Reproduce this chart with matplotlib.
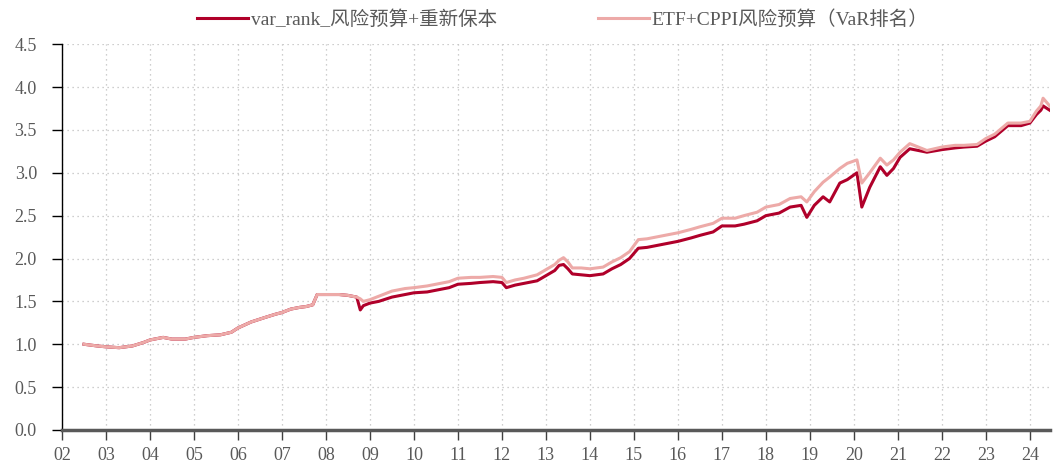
import numpy as np
import matplotlib.pyplot as plt

plt.rcParams['font.family'] = ['Liberation Serif', 'Noto Sans CJK SC']

# 读图估计的净值（年份小数）
dates = [2002.50, 2002.80, 2003.00, 2003.30, 2003.60, 2003.85, 2004.00, 2004.30, 2004.50,
         2004.80, 2005.00, 2005.30, 2005.60, 2005.85, 2006.00, 2006.30, 2006.60, 2006.85,
         2007.00, 2007.20, 2007.40, 2007.55, 2007.70, 2007.80, 2008.00, 2008.30, 2008.50,
         2008.70, 2008.78, 2008.85, 2009.00, 2009.20, 2009.50, 2009.80, 2010.00, 2010.30,
         2010.50, 2010.80, 2011.00, 2011.30, 2011.50, 2011.80, 2012.00, 2012.10, 2012.30,
         2012.50, 2012.80, 2013.00, 2013.20, 2013.30, 2013.40, 2013.50, 2013.60, 2013.80,
         2014.00, 2014.30, 2014.50, 2014.70, 2014.90, 2015.10, 2015.30, 2015.50, 2015.80,
         2016.00, 2016.30, 2016.50, 2016.80, 2017.00, 2017.30, 2017.50, 2017.80, 2018.00,
         2018.30, 2018.55, 2018.80, 2018.93, 2019.10, 2019.30, 2019.45, 2019.68, 2019.85,
         2020.07, 2020.18, 2020.36, 2020.60, 2020.75, 2020.90, 2021.05, 2021.27, 2021.66,
         2022.00, 2022.30, 2022.50, 2022.80, 2023.00, 2023.20, 2023.50, 2023.80, 2024.00,
         2024.15, 2024.25, 2024.30, 2024.45]

var_rank = [1.00, 0.98, 0.97, 0.96, 0.98, 1.02, 1.05, 1.08, 1.06, 1.06, 1.08, 1.10, 1.11,
            1.14, 1.19, 1.26, 1.31, 1.35, 1.37, 1.41, 1.43, 1.44, 1.46, 1.58, 1.58, 1.58,
            1.57, 1.55, 1.40, 1.45, 1.48, 1.50, 1.55, 1.58, 1.60, 1.61, 1.63, 1.66, 1.70,
            1.71, 1.72, 1.73, 1.72, 1.66, 1.69, 1.71, 1.74, 1.80, 1.86, 1.92, 1.93, 1.88,
            1.82, 1.81, 1.80, 1.82, 1.88, 1.93, 2.00, 2.12, 2.13, 2.15, 2.18, 2.20, 2.24,
            2.27, 2.31, 2.38, 2.38, 2.40, 2.44, 2.50, 2.53, 2.60, 2.62, 2.48, 2.62, 2.72,
            2.66, 2.88, 2.92, 3.00, 2.60, 2.83, 3.07, 2.97, 3.05, 3.18, 3.28, 3.24,
            3.27, 3.29, 3.30, 3.31, 3.37, 3.42, 3.55, 3.55, 3.58, 3.68, 3.73, 3.78, 3.73]

etf_cppi = [1.00, 0.98, 0.97, 0.96, 0.98, 1.02, 1.05, 1.08, 1.06, 1.06, 1.08, 1.10, 1.11,
            1.14, 1.19, 1.26, 1.31, 1.35, 1.37, 1.41, 1.43, 1.44, 1.46, 1.58, 1.58, 1.58,
            1.57, 1.55, 1.53, 1.50, 1.52, 1.56, 1.62, 1.65, 1.66, 1.68, 1.70, 1.73, 1.77,
            1.78, 1.78, 1.79, 1.78, 1.72, 1.75, 1.77, 1.81, 1.87, 1.93, 1.98, 2.01, 1.96,
            1.89, 1.89, 1.88, 1.90, 1.96, 2.01, 2.08, 2.22, 2.23, 2.25, 2.28, 2.30, 2.34,
            2.37, 2.41, 2.47, 2.47, 2.50, 2.54, 2.60, 2.63, 2.70, 2.72, 2.66, 2.78, 2.89,
            2.95, 3.05, 3.11, 3.15, 2.88, 3.00, 3.17, 3.09, 3.15, 3.24, 3.34, 3.26,
            3.30, 3.32, 3.32, 3.33, 3.40, 3.45, 3.58, 3.58, 3.60, 3.72, 3.78, 3.87, 3.78]

years = ['02', '03', '04', '05', '06', '07', '08', '09', '10', '11', '12', '13',
         '14', '15', '16', '17', '18', '19', '20', '21', '22', '23', '24']

fig = plt.figure(figsize=(10.56, 4.65), dpi=100)
ax = fig.add_axes([0.0587, 0.0753, 0.9353, 0.8297])

ax.plot(dates, var_rank, color='#B0002A', linewidth=2.2, label='var_rank_风险预算+重新保本')
ax.plot(dates, etf_cppi, color='#EDAAA8', linewidth=2.2, label='ETF+CPPI风险预算（VaR排名）')

ax.set_ylim(0, 4.5)
ax.set_yticks(np.arange(0, 4.51, 0.5))
ax.set_yticklabels([f'{v:.1f}' for v in np.arange(0, 4.51, 0.5)])
ax.set_xlim(2002, 2024.45)
ax.set_xticks(np.arange(2002, 2025))
ax.set_xticklabels(years)

ax.tick_params(axis='x', labelsize=13, length=7, width=1, color='#404040',
               labelcolor='#595959', pad=5)
ax.tick_params(axis='y', labelsize=13, length=7, width=1, color='black',
               labelcolor='#595959', pad=11)

ax.grid(True, linestyle=(0, (1, 3)), color='#BFBFBF', linewidth=0.9)
ax.set_axisbelow(True)

for s in ['top', 'right']:
    ax.spines[s].set_visible(False)
ax.spines['left'].set_color('black')
ax.spines['left'].set_linewidth(1.0)
ax.spines['bottom'].set_color('#595959')
ax.spines['bottom'].set_linewidth(2.5)

fig.legend(loc='upper center', bbox_to_anchor=(0.533, 1.015), ncol=2, frameon=False,
           fontsize=14, handlelength=2.6, handletextpad=0.15, columnspacing=5.2,
           labelcolor='#595959')

fig.savefig('out.png', dpi=100)
